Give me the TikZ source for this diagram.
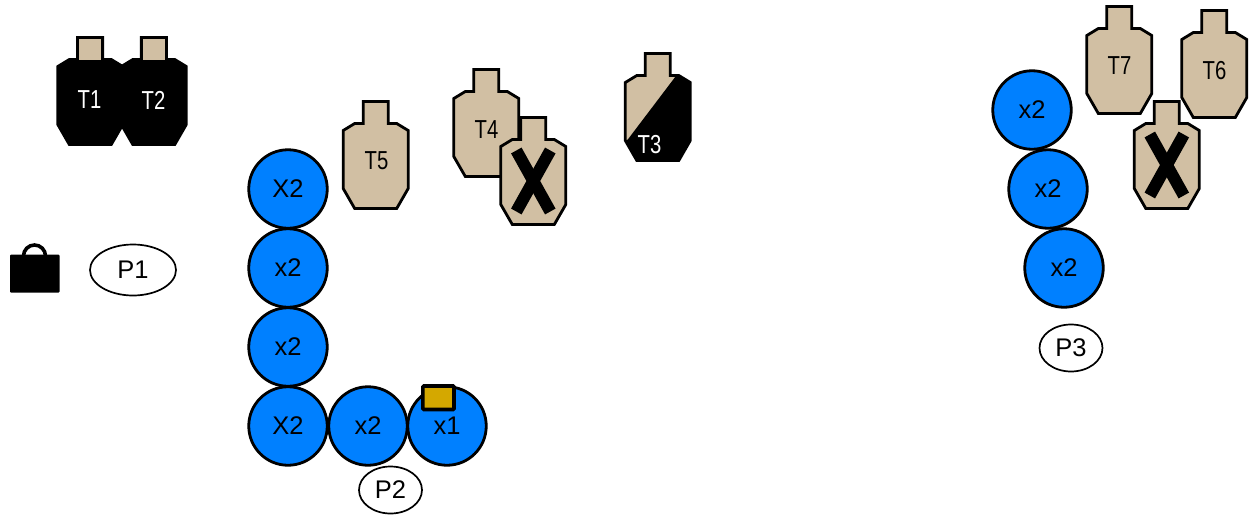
\documentclass[tikz,border=0pt]{standalone}
\usepackage{graphicx}
\usepackage{fontspec}
\usetikzlibrary{shapes.geometric}
\setmainfont{Liberation Sans}
\definecolor{tan}{RGB}{209,191,163}
\definecolor{disc}{RGB}{0,128,255}
\definecolor{gold}{RGB}{212,168,0}
\tikzset{
  px/.style={x=1pt,y=-1pt},
  outline/.style={draw=black,line width=2.8pt,line join=miter},
  shooter/.style={circle,draw=black,line width=2.8pt,fill=disc,minimum size=78.5pt,inner sep=0pt,font=\fontsize{25.5}{25.5}\selectfont},
  tag/.style={ellipse,draw=black,line width=1.7pt,fill=white,inner sep=0pt,font=\fontsize{25.5}{25.5}\selectfont},
  tlabel/.style={inner sep=0pt,font=\fontsize{26}{26}\selectfont},
  cross/.style={draw=black,line width=12pt,line cap=butt},
}
\newcommand{\tgtbody}[3]{% cx, ty, style
  \path[shift={(#1,#2)},#3] (-12.5,22) -- (-12.5,0) -- (12.5,0) -- (12.5,22) -- (21,22) -- (32.5,29) -- (32.5,87) -- (21,107) -- (-21,107) -- (-32.5,87) -- (-32.5,29) -- (-21,22) -- cycle;}
\newcommand{\tgthead}[2]{% cx, ty
  \path[shift={(#1,#2)},outline,fill=tan] (-12.5,22) -- (-12.5,0) -- (12.5,0) -- (12.5,22);}
\newcommand{\tgtcross}[2]{% cx, ty
  \draw[shift={(#1,#2)},cross] (-17,33) -- (17,94);
  \draw[shift={(#1,#2)},cross] (17,33) -- (-17,94);}
\newcommand{\tl}[1]{\scalebox{0.78}[1]{#1}}
\newcommand{\dn}[1]{\raisebox{-1pt}{#1}}
\begin{document}
\begin{tikzpicture}[px]
\useasboundingbox (0,0) rectangle (1249,514);
% black targets
\tgtbody{90.3}{37.5}{outline,fill=black}
\tgthead{90.3}{37.5}
\tgtbody{153.8}{37.5}{outline,fill=black}
\tgthead{153.8}{37.5}
\node[tlabel,text=white] (t1) at (89.5,100) {\tl{T1}};
\node[tlabel,text=white] (t2) at (153.5,100) {\tl{T2}};
% T5
\tgtbody{375.7}{101.5}{outline,fill=tan}
\node[tlabel] (t5) at (376.5,161) {\tl{T5}};
% T4 and no-shoot
\tgtbody{486.3}{69.5}{outline,fill=tan}
\node[tlabel] (t4) at (486.5,130) {\tl{T4}};
\tgtbody{533.3}{117.5}{outline,fill=tan}
\tgtcross{533.3}{117.5}
% T3
\tgtbody{657.8}{53.5}{outline,fill=tan}
\fill[shift={(657.8,53.5)},black] (18.5,22) -- (21,22) -- (32.5,29) -- (32.5,87) -- (21,107) -- (-21,107) -- (-32.5,87) -- (-30,86) -- cycle;
\node[tlabel,text=white] (t3) at (649.5,145) {\tl{T3}};
% T7, T6 and no-shoot
\tgtbody{1119.3}{6.5}{outline,fill=tan}
\node[tlabel] (t7) at (1119.5,66) {\tl{T7}};
\tgtbody{1214.3}{10.5}{outline,fill=tan}
\node[tlabel] (t6) at (1214.5,71) {\tl{T6}};
\tgtbody{1166.8}{101.5}{outline,fill=tan}
\tgtcross{1166.8}{101.5}
% bag
\draw[line width=3.6pt,black] (23.5,256) arc[start angle=180,end angle=360,radius=11];
\fill[black,rounded corners=1pt] (10,254.5) rectangle (59.5,292.5);
% positions
\node[shooter] (a1) at (288,189) {\dn{X2}};
\node[shooter] (a2) at (288,268) {\dn{x2}};
\node[shooter] (a3) at (288,347) {\dn{x2}};
\node[shooter] (a4) at (288,426) {\dn{X2}};
\node[shooter] (a5) at (368,426) {\dn{x2}};
\node[shooter] (a6) at (447,426) {\dn{x1}};
\node[shooter] (b1) at (1032,110) {\dn{x2}};
\node[shooter] (b2) at (1048,189) {\dn{x2}};
\node[shooter] (b3) at (1064,268) {\dn{x2}};
\draw[black,line width=3.6pt,fill=gold,rounded corners=1pt] (422.8,386) rectangle (454,409.5);
% tags
\node[tag,minimum width=86pt,minimum height=51pt] (p1) at (133,270) {\dn{P1}};
\node[tag,minimum width=63pt,minimum height=47pt] (p2) at (390.5,490) {\dn{P2}};
\node[tag,minimum width=63pt,minimum height=47pt] (p3) at (1071,348) {\dn{P3}};
\end{tikzpicture}
\end{document}
